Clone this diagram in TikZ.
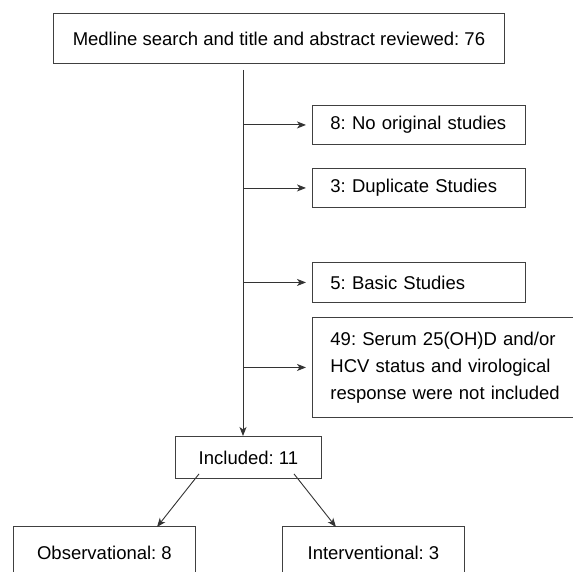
\documentclass[tikz,border=0pt]{standalone}
\usepackage{fontspec}
\setmainfont{Liberation Sans}
\usetikzlibrary{arrows.meta}
\begin{document}
\frenchspacing
\begin{tikzpicture}[x=1pt,y=-1pt,
  every node/.style={font=\fontsize{18.5}{27}\selectfont\frenchspacing, text=black},
  box/.style={draw=black!75, line width=0.9pt, rectangle, inner sep=0pt},
  sidebox/.style={box, anchor=north west, text width=177pt, align=left, inner xsep=18pt},
  arr/.style={draw=black!80, line width=0.9pt, -{Stealth[length=9pt,width=7pt,inset=2.5pt]}}]
\useasboundingbox (0,0) rectangle (572,572);
\node[box, anchor=north west, minimum width=451pt, minimum height=50pt] (top) at (53,13) {Medline search and title and abstract reviewed: 76};
\coordinate (s) at (243,70);
\node[sidebox, minimum height=39pt] (b8) at (312,105) {8: No original studies};
\node[sidebox, minimum height=39pt] (b3) at (312,168) {3: Duplicate Studies};
\node[sidebox, minimum height=40pt] (b5) at (312,262) {5: Basic Studies};
\node[box, anchor=north west, text width=230pt, align=left, inner xsep=18pt, minimum height=100pt] (b49) at (312,317) {49: Serum 25(OH)D and/or\\HCV status and virological\\response were not included};
\node[box, anchor=north west, minimum width=146pt, minimum height=42pt] (inc) at (175,436) {Included: 11};
\node[box, anchor=north west, minimum width=182pt, minimum height=52pt] (obs) at (13,526) {Observational: 8};
\node[box, anchor=north west, minimum width=182pt, minimum height=52pt] (int) at (282,526) {Interventional: 3};
\draw[arr] (s) -- (s |- inc.north);
\draw[arr, shorten >=6pt] (s |- b8.west) -- (b8.west);
\draw[arr, shorten >=6pt] (s |- b3.west) -- (b3.west);
\draw[arr, shorten >=6pt] (s |- b5.west) -- (b5.west);
\draw[arr, shorten >=6pt] (s |- b49.west) -- (b49.west);
\draw[arr] ([xshift=24pt,yshift=5pt]inc.south west) -- ([xshift=144pt,yshift=-1pt]obs.north west);
\draw[arr] ([xshift=119pt,yshift=5pt]inc.south west) -- ([xshift=54pt,yshift=-1pt]int.north west);
\end{tikzpicture}
\end{document}
